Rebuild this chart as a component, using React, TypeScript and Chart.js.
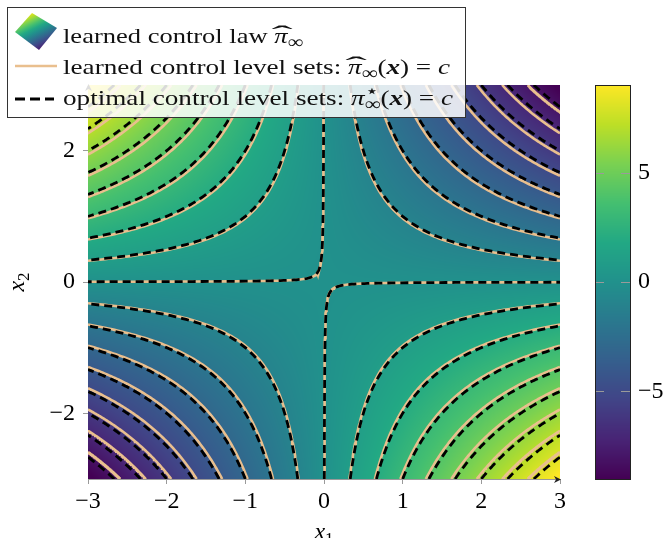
import React, { useEffect, useRef } from "react";
import { Chart, registerables } from "chart.js";

Chart.register(...registerables);

// ---------------- data ----------------
const xTicks = [-3, -2, -1, 0, 1, 2, 3];
const yTicks = [-2, 0, 2];
const colorbarTicks = [-5, 0, 5];
const domainX = [-3, 3];
const domainY = [-3, 3];
const colorRange = [-9, 9];
// contour levels c of the control law
const levelValues = [-8, -7, -6, -5, -4, -3, -2, -1, 0, 1, 2, 3, 4, 5, 6, 7, 8];
const zeroLevelEps = 0.012; // the "0" contour is drawn just off the axes
// control law pi(x) = -gain * x1 * x2
const optimalGain = 1.0;
const learnedGain = 1.03;

// ---------------- styles / layout ----------------
const SERIF = '"Liberation Serif", "DejaVu Serif", serif';
const TAN = "rgb(233,191,142)";
const AXIS_GRAY = "#9a9a9a";
const TICK_SIZE = 24;
const LEGEND_SIZE = 22;
const TARGET = { left: 88, top: 85, right: 560, bottom: 479 };

const VIRIDIS = [
  [68, 1, 84], [72, 36, 117], [65, 68, 135], [53, 95, 141], [42, 120, 142],
  [33, 145, 140], [34, 168, 132], [68, 191, 112], [122, 209, 81], [189, 223, 38], [253, 231, 37],
];
function viridis(t: number): [number, number, number] {
  const tt = Math.max(0, Math.min(1, t));
  const s = tt * 10;
  const i = Math.min(9, Math.floor(s));
  const f = s - i;
  const a = VIRIDIS[i], b = VIRIDIS[i + 1];
  return [a[0] + (b[0] - a[0]) * f, a[1] + (b[1] - a[1]) * f, a[2] + (b[2] - a[2]) * f];
}
const rgb = (c: number[]) => `rgb(${Math.round(c[0])},${Math.round(c[1])},${Math.round(c[2])})`;

function field(x1: number, x2: number) {
  return -learnedGain * x1 * x2;
}

const SAMPLES = 90;
function branches(c: number, gain: number) {
  const lvl = c === 0 ? zeroLevelEps : c;
  const k = lvl / gain; // x1 * x2 = -k
  const a = Math.abs(k);
  const xmax = domainX[1], ymax = domainY[1];
  const lo = a / ymax;
  if (lo >= xmax) return [] as { x: number; y: number }[][];
  const b1: { x: number; y: number }[] = [];
  for (let i = 0; i <= SAMPLES; i++) {
    const x1 = lo * Math.pow(xmax / lo, i / SAMPLES);
    b1.push({ x: x1, y: -k / x1 });
  }
  const b2 = b1.map((p) => ({ x: -p.x, y: -p.y }));
  return [b1, b2];
}

const fmt = (v: number | string) => {
  const n = Number(v);
  return n < 0 ? `\u2212${Math.abs(n)}` : `${n}`;
};

const noPad = (s: any) => {
  s.paddingTop = 0;
  s.paddingBottom = 0;
  s.paddingLeft = 0;
  s.paddingRight = 0;
};

// ---------------- plugins ----------------
const heatmapPlugin = {
  id: "heatmap",
  beforeDatasetsDraw(chart: any) {
    const { ctx, chartArea: a, scales } = chart;
    const xs = scales.x, ys = scales.y;
    const w = Math.round(a.right - a.left), h = Math.round(a.bottom - a.top);
    if (w <= 0 || h <= 0) return;
    const off = document.createElement("canvas");
    off.width = w;
    off.height = h;
    const octx = off.getContext("2d")!;
    const img = octx.createImageData(w, h);
    const [mn, mx] = colorRange;
    for (let j = 0; j < h; j++) {
      const v2 = ys.getValueForPixel(a.top + j + 0.5);
      for (let i = 0; i < w; i++) {
        const v1 = xs.getValueForPixel(a.left + i + 0.5);
        const c = viridis((field(v1, v2) - mn) / (mx - mn));
        const k = (j * w + i) * 4;
        img.data[k] = c[0];
        img.data[k + 1] = c[1];
        img.data[k + 2] = c[2];
        img.data[k + 3] = 255;
      }
    }
    octx.putImageData(img, 0, 0);
    ctx.drawImage(off, a.left, a.top);

    // colorbar
    const cb = scales.cb;
    const barL = a.right + 35, barW = 35;
    for (let yy = Math.floor(cb.top); yy < cb.bottom; yy++) {
      const v = cb.getValueForPixel(yy + 0.5);
      ctx.fillStyle = rgb(viridis((v - mn) / (mx - mn)));
      ctx.fillRect(barL, yy, barW, 1);
    }
    ctx.save();
    ctx.strokeStyle = AXIS_GRAY;
    ctx.lineWidth = 1;
    for (const t of colorbarTicks) {
      const py = Math.round(cb.getPixelForValue(t)) + 0.5;
      ctx.beginPath();
      ctx.moveTo(barL, py);
      ctx.lineTo(barL + 9, py);
      ctx.moveTo(barL + barW - 9, py);
      ctx.lineTo(barL + barW, py);
      ctx.stroke();
    }
    ctx.strokeStyle = "#222";
    ctx.strokeRect(barL + 0.5, Math.round(cb.top) + 0.5, barW, Math.round(cb.bottom - cb.top));
    ctx.restore();
  },
};

type Seg = { t: string; font: string; dy?: number; adv?: boolean; hat?: boolean };
function segsWidth(ctx: CanvasRenderingContext2D, segs: Seg[]) {
  let w = 0;
  for (const s of segs) {
    ctx.font = s.font;
    if (s.adv !== false) w += ctx.measureText(s.t).width;
  }
  return w;
}
function drawSegs(ctx: CanvasRenderingContext2D, segs: Seg[]) {
  let x = 0;
  for (const s of segs) {
    ctx.font = s.font;
    const m = ctx.measureText(s.t).width;
    ctx.fillText(s.t, x, s.dy || 0);
    if (s.hat) {
      ctx.save();
      ctx.font = `${LEGEND_SIZE + 2}px ${SERIF}`;
      ctx.translate(x + m / 2 + 1, -1);
      ctx.scale(2.2, 1);
      ctx.textAlign = "center";
      ctx.fillText("\u02C6", 0, 0);
      ctx.restore();
    }
    if (s.adv !== false) x += m;
  }
}

const overlayPlugin = {
  id: "overlay",
  afterDraw(chart: any) {
    const { ctx, chartArea: a } = chart;
    ctx.save();
    // axis arrows
    ctx.fillStyle = "#222";
    ctx.beginPath();
    ctx.moveTo(a.right + 1, a.bottom + 0.5);
    ctx.lineTo(a.right - 6, a.bottom - 3);
    ctx.lineTo(a.right - 4, a.bottom + 0.5);
    ctx.lineTo(a.right - 6, a.bottom + 4);
    ctx.closePath();
    ctx.fill();
    ctx.beginPath();
    ctx.moveTo(a.left + 0.5, a.top - 1);
    ctx.lineTo(a.left - 3, a.top + 6);
    ctx.lineTo(a.left + 0.5, a.top + 4);
    ctx.lineTo(a.left + 4, a.top + 6);
    ctx.closePath();
    ctx.fill();

    // axis titles
    ctx.fillStyle = "#000";
    ctx.textBaseline = "alphabetic";
    const cx = (a.left + a.right) / 2;
    const drawTitle = (sub: string) => {
      ctx.font = `italic ${TICK_SIZE}px ${SERIF}`;
      const wx = ctx.measureText("x").width;
      ctx.font = `${TICK_SIZE - 7}px ${SERIF}`;
      const ws = ctx.measureText(sub).width;
      const tot = wx + ws;
      ctx.font = `italic ${TICK_SIZE}px ${SERIF}`;
      ctx.fillText("x", -tot / 2, 0);
      ctx.font = `${TICK_SIZE - 7}px ${SERIF}`;
      ctx.fillText(sub, -tot / 2 + wx, 5);
    };
    ctx.save();
    ctx.translate(cx, 539);
    drawTitle("1");
    ctx.restore();
    ctx.save();
    ctx.translate(24, (a.top + a.bottom) / 2);
    ctx.rotate(-Math.PI / 2);
    drawTitle("2");
    ctx.restore();

    // legend
    const bx = 7.5, by = 7.5, bw = 458, bh = 110;
    ctx.fillStyle = "rgba(255,255,255,0.85)";
    ctx.fillRect(bx, by, bw, bh);
    ctx.strokeStyle = "#333";
    ctx.lineWidth = 1;
    ctx.strokeRect(bx, by, bw, bh);

    // diamond icon
    const g = ctx.createLinearGradient(27, 14, 45, 50);
    for (let i = 0; i <= 10; i++) g.addColorStop(i / 10, rgb(viridis(1 - i / 10)));
    ctx.fillStyle = g;
    ctx.beginPath();
    ctx.moveTo(32, 13);
    ctx.lineTo(57, 28);
    ctx.lineTo(39, 50);
    ctx.lineTo(15, 32);
    ctx.closePath();
    ctx.fill();

    // tan line
    ctx.strokeStyle = TAN;
    ctx.lineWidth = 2.6;
    ctx.beginPath();
    ctx.moveTo(15, 66);
    ctx.lineTo(57, 66);
    ctx.stroke();
    // dashed line
    ctx.strokeStyle = "#000";
    ctx.lineWidth = 2.8;
    ctx.setLineDash([10, 5]);
    ctx.beginPath();
    ctx.moveTo(15, 99);
    ctx.lineTo(54, 99);
    ctx.stroke();
    ctx.setLineDash([]);

    const R = `${LEGEND_SIZE}px ${SERIF}`;
    const I = `italic ${LEGEND_SIZE}px ${SERIF}`;
    const BI = `italic bold ${LEGEND_SIZE}px ${SERIF}`;
    const S = `${LEGEND_SIZE - 4}px ${SERIF}`;
    const rows: { segs: Seg[]; base: number; end: number }[] = [
      {
        base: 43,
        end: 303,
        segs: [
          { t: "learned control law ", font: R },
          { t: "\u03C0", font: I, hat: true },
          { t: "\u221E", font: S, dy: 5 },
        ],
      },
      {
        base: 74,
        end: 450,
        segs: [
          { t: "learned control level sets: ", font: R },
          { t: "\u03C0", font: I, hat: true },
          { t: "\u221E", font: S, dy: 5 },
          { t: "(", font: R },
          { t: "x", font: BI },
          { t: ") = ", font: R },
          { t: "c", font: I },
        ],
      },
      {
        base: 105,
        end: 453,
        segs: [
          { t: "optimal control level sets: ", font: R },
          { t: "\u03C0", font: I },
          { t: "\u22C6", font: S, dy: -8, adv: false },
          { t: "\u221E", font: S, dy: 5 },
          { t: "(", font: R },
          { t: "x", font: BI },
          { t: ") = ", font: R },
          { t: "c", font: I },
        ],
      },
    ];
    ctx.fillStyle = "#111";
    for (const r of rows) {
      const w = segsWidth(ctx, r.segs);
      const sc = (r.end - 63) / w;
      ctx.save();
      ctx.translate(63, r.base);
      ctx.scale(sc, 1);
      drawSegs(ctx, r.segs);
      ctx.restore();
    }
    ctx.restore();
  },
};

export default function App() {
  const ref = useRef<HTMLCanvasElement | null>(null);
  useEffect(() => {
    if (!ref.current) return;
    const datasets: any[] = [];
    for (const c of levelValues)
      for (const br of branches(c, optimalGain))
        datasets.push({
          data: br,
          showLine: true,
          pointRadius: 0,
          borderColor: "#000",
          borderWidth: 2.8,
          borderDash: [8, 5],
          order: 0,
          clip: 0,
          fill: false,
        });
    for (const c of levelValues)
      for (const br of branches(c, learnedGain))
        datasets.push({
          data: br,
          showLine: true,
          pointRadius: 0,
          borderColor: TAN,
          borderWidth: 2.6,
          order: 1,
          clip: 0,
          fill: false,
        });

    const tickFont = { family: SERIF, size: TICK_SIZE };
    const chart = new Chart(ref.current, {
      type: "scatter",
      data: { datasets },
      plugins: [heatmapPlugin, overlayPlugin],
      options: {
        responsive: false,
        animation: false,
        events: [],
        layout: { padding: { top: TARGET.top, left: 0, right: 0, bottom: 0 } },
        plugins: { legend: { display: false }, tooltip: { enabled: false } },
        scales: {
          x: {
            type: "linear",
            position: "bottom",
            min: domainX[0],
            max: domainX[1],
            z: 1,
            afterBuildTicks: (s: any) => {
              s.ticks = xTicks.map((v) => ({ value: v }));
            },
            afterFit: (s: any) => {
              s.height = 538 - TARGET.bottom;
              noPad(s);
            },
            grid: { display: true, drawOnChartArea: false, drawTicks: true, tickLength: 5, color: AXIS_GRAY },
            border: { display: true, color: AXIS_GRAY, width: 1 },
            ticks: { font: tickFont, color: "#000", padding: 3, maxRotation: 0, autoSkip: false, callback: fmt },
          },
          y: {
            type: "linear",
            position: "left",
            min: domainY[0],
            max: domainY[1],
            z: 1,
            afterBuildTicks: (s: any) => {
              s.ticks = yTicks.map((v) => ({ value: v }));
            },
            afterFit: (s: any) => {
              s.width = TARGET.left;
              noPad(s);
            },
            grid: { display: true, drawOnChartArea: false, drawTicks: true, tickLength: 5, color: AXIS_GRAY },
            border: { display: true, color: AXIS_GRAY, width: 1 },
            ticks: { font: tickFont, color: "#000", padding: 8, autoSkip: false, callback: fmt },
          },
          cb: {
            type: "linear",
            position: "right",
            min: colorRange[0],
            max: colorRange[1],
            afterBuildTicks: (s: any) => {
              s.ticks = colorbarTicks.map((v) => ({ value: v }));
            },
            afterFit: (s: any) => {
              s.width = 669 - TARGET.right;
              noPad(s);
            },
            grid: { display: false, drawTicks: false, drawOnChartArea: false },
            border: { display: false },
            ticks: { font: tickFont, color: "#000", padding: 78, autoSkip: false, callback: fmt },
          },
        },
      } as any,
    });
    return () => chart.destroy();
  }, []);
  return (
    <div style={{ position: "fixed", left: 0, top: 0, width: 669, height: 538, background: "#fff" }}>
      <canvas ref={ref} width={669} height={538} style={{ display: "block" }} />
    </div>
  );
}
